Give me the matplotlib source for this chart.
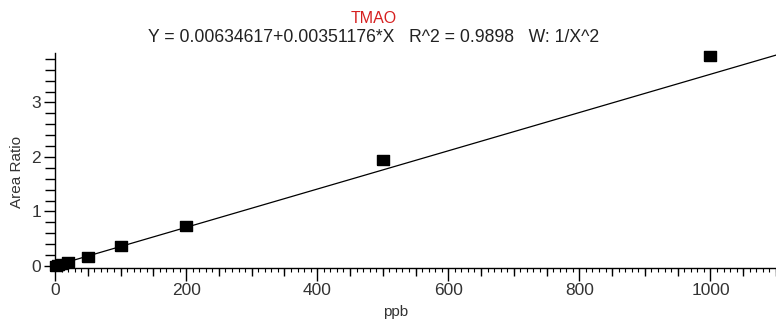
import numpy as np
import matplotlib; matplotlib.use('Agg')
import matplotlib.pyplot as plt
from matplotlib.ticker import MultipleLocator, NullFormatter

# --- data
conc = [1, 5, 10, 20, 50, 100, 200, 500, 1000]
ratio = [0.004, 0.018, 0.036, 0.07, 0.17, 0.37, 0.73, 1.95, 3.86]
intercept = 0.00634617
slope = 0.00351176

plt.rcParams['font.family'] = ['Liberation Sans', 'DejaVu Sans']

fig = plt.figure(figsize=(7.76, 3.2), dpi=100)
ax = fig.add_axes([0.0709, 0.162, 0.9291, 0.671])

xfit = np.array([0, 1100])
ax.plot(xfit, intercept + slope * xfit, color='black', lw=0.9)

sq = [(-1.25, -1), (1.25, -1), (1.25, 1), (-1.25, 1), (-1.25, -1)]
ax.plot(conc, ratio, ls='none', marker=sq, markersize=8.5, color='black', clip_on=False, zorder=3)

ax.set_xlim(0, 1100)
ax.set_ylim(-0.04, 3.9)

for s in ['top', 'right']:
    ax.spines[s].set_visible(False)
for s in ['left', 'bottom']:
    ax.spines[s].set_linewidth(1.0)

ax.xaxis.set_major_locator(MultipleLocator(200))
ax.xaxis.set_minor_locator(MultipleLocator(50))
ax.yaxis.set_major_locator(MultipleLocator(1))
ax.yaxis.set_minor_locator(MultipleLocator(0.2))
ax.tick_params(axis='x', which='major', length=9, width=1, labelsize=12.5, labelcolor='#333333', pad=2)
ax.tick_params(axis='x', which='minor', length=6, width=1)
ax.tick_params(axis='y', which='major', length=8, width=1, labelsize=12.5, labelcolor='#333333', pad=2)
ax.tick_params(axis='y', which='minor', length=7, width=1)

# small ticks every 10
sec = ax.secondary_xaxis('bottom')
sec.xaxis.set_major_locator(MultipleLocator(10))
sec.xaxis.set_major_formatter(NullFormatter())
sec.tick_params(length=3, width=0.8)
sec.spines['bottom'].set_visible(False)

ax.set_xlabel('ppb', fontsize=11, color='#333333', labelpad=1)
ax.xaxis.set_label_coords(0.472, -0.17)
ax.set_ylabel('Area Ratio', fontsize=11, color='#333333')
ax.yaxis.set_label_coords(-0.043, 0.447)

fig.text(0.481, 0.942, 'TMAO', color='#d62020', fontsize=11.5, ha='center', va='center')
fig.text(0.481, 0.882, 'Y = 0.00634617+0.00351176*X   R^2 = 0.9898   W: 1/X^2',
         color='#222222', fontsize=12.7, ha='center', va='center')

fig.savefig('out.png', dpi=100)
